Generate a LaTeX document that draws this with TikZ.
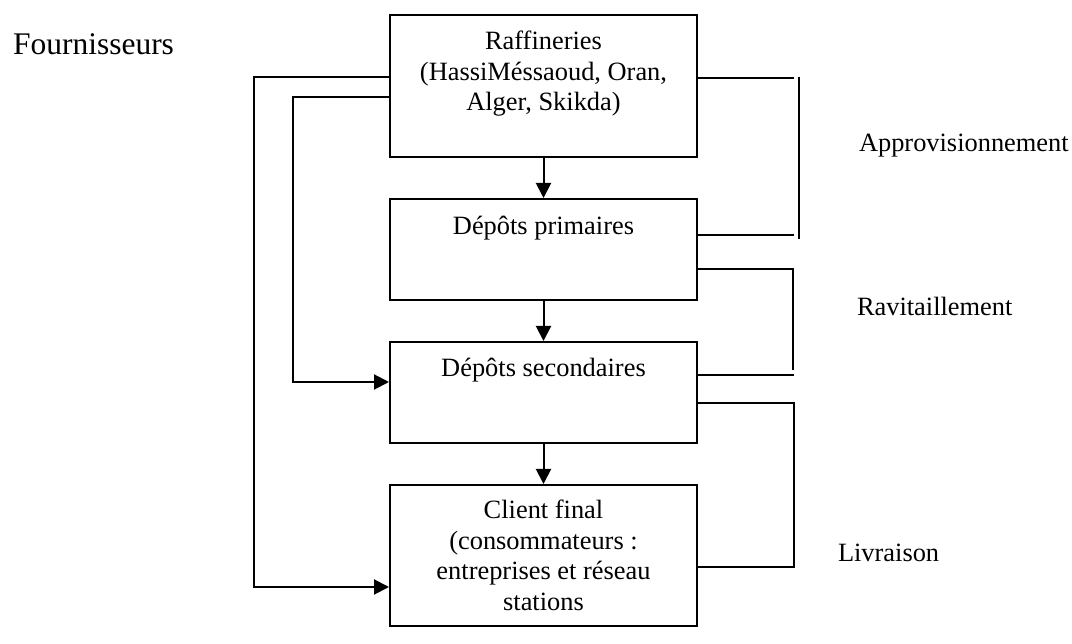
\documentclass[tikz,border=0pt]{standalone}
\usepackage{fontspec}
\setmainfont{Liberation Serif}
\usetikzlibrary{arrows.meta}

\begin{document}
\begin{tikzpicture}[x=1pt,y=-1pt,
  line width=2pt,
  stage/.style={draw=black, line width=2pt, minimum width=307pt, inner sep=0pt},
  boxtext/.style={anchor=north, inner sep=0pt, align=center,
    font=\fontsize{26.4}{30.5}\selectfont},
  side/.style={anchor=base west, inner sep=0pt, font=\fontsize{26.4}{30.5}\selectfont},
  link/.style={line width=2pt},
  flow/.style={line width=2pt, -{Triangle[length=15pt,width=15pt]}}
]
\useasboundingbox (0,0) rectangle (1072,644);

% supply chain stages
\node[stage, minimum height=142pt] (b1) at (543.5,86) {};
\node[stage, minimum height=101pt] (b2) at (543.5,249.5) {};
\node[stage, minimum height=101pt] (b3) at (543.5,392.5) {};
\node[stage, minimum height=141pt] (b4) at (543.5,555.5) {};

\node[boxtext] (t1) at ([yshift=-13.6pt]b1.north)
  {\strut Raffineries\\(HassiMéssaoud, Oran,\\Alger, Skikda)};
\node[boxtext] (t2) at ([yshift=-14.6pt]b2.north) {\strut Dépôts primaires};
\node[boxtext] (t3) at ([yshift=-13.6pt]b3.north) {\strut Dépôts secondaires};
\node[boxtext] (t4) at ([yshift=-12.6pt]b4.north)
  {\strut Client final\\(consommateurs :\\entreprises et réseau\\stations};

% side labels
\node[anchor=base west, inner sep=0pt, font=\fontsize{31.5}{36}\selectfont]
  (fourn) at (12,55) {Fournisseurs};
\node[side] (appro) at (858,152) {Approvisionnement};
\node[side] (ravit) at (856,316) {Ravitaillement};
\node[side] (livr) at (837,561) {Livraison};

% main downward flow
\draw[flow] (b1.south) -- (b2.north);
\draw[flow] (b2.south) -- (b3.north);
\draw[flow] (b3.south) -- (b4.north);

% direct deliveries bypassing the depots
\draw[flow] ([yshift=9pt]b1.west) -- ++(-135,0) |- ([yshift=-31.5pt]b4.west);
\draw[flow] ([yshift=-11pt]b1.west) -- ++(-96,0) |- ([yshift=10.5pt]b3.west);

% brackets on the right
\coordinate (apTop) at (799,77);
\coordinate (apBot) at (799,239);
\draw[link] ([yshift=8pt]b1.east) -- ++(96,0);
\draw[link] ([yshift=14.5pt]b2.east) -- ++(96,0);
\draw[link] (apTop) -- (apBot);

\coordinate (raBot) at (793,370);
\draw[link] ([yshift=-19.5pt]b2.east) -| (raBot);
\draw[link] ([yshift=17.5pt]b3.east) -- ++(96,0);

\draw[link] ([yshift=-10.5pt]b3.east) -- ++(96,0) |- ([yshift=-11.5pt]b4.east);
\end{tikzpicture}
\end{document}
